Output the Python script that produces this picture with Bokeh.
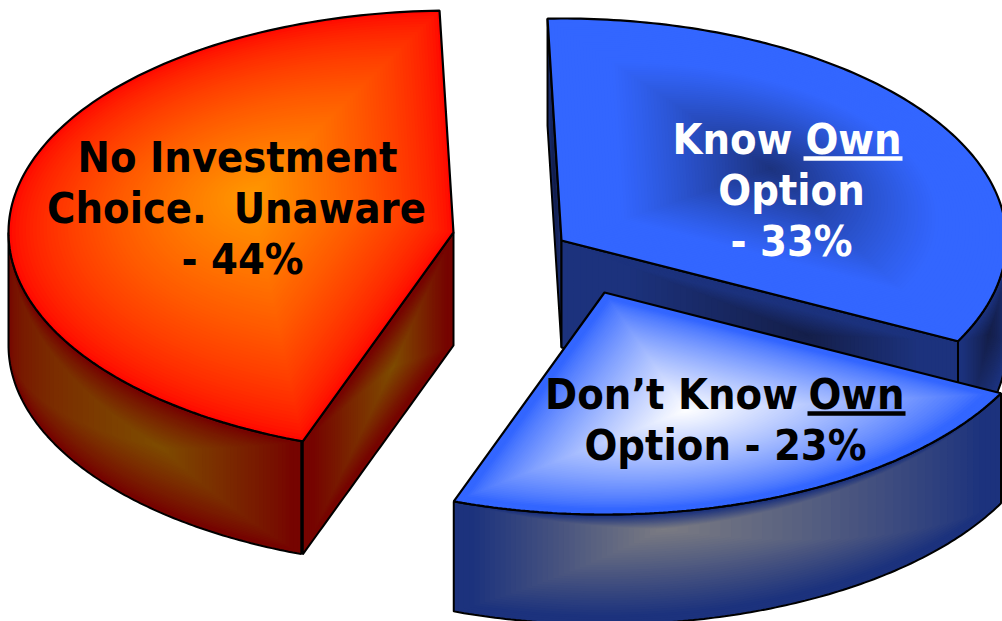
import numpy as np
from bokeh.plotting import figure
from bokeh.models import Range1d
from bokeh.core.properties import value
from bokeh.embed import file_html
from bokeh.resources import INLINE

# data
slice_names = ["Know Own Option", "Don't Know Own Option", "No Investment Choice. Unaware"]
shares = [33, 23, 44]

# layout of the exploded 3D pie
RX, RY = 445.0, 222.0
START = -1.8
CENTERS = {0: (561.0, 240.0), 1: (604.0, 292.0), 2: (453.0, 232.0)}
DEPTH = {0: 107.0, 1: 110.0, 2: 113.0}

BLUE = (51, 102, 255)
NAVY = (28, 50, 125)
DARKNAVY = (20, 30, 72)
RED = (255, 8, 0)
ORANGE = (255, 152, 0)
DARKRED = (118, 4, 0)
OLIVE = (126, 76, 0)
GREY = (124, 124, 130)
WHITE = (255, 255, 255)

p = figure(width=1002, height=621, x_range=Range1d(0, 1002), y_range=Range1d(621, 0),
           output_backend="svg", toolbar_location=None, min_border=0,
           background_fill_color="white", outline_line_color=None)
p.axis.visible = False
p.grid.visible = False

edges = START + np.concatenate([[0], np.cumsum(shares)]) * 3.6


def arc(i, t0, t1, n=90):
    cx, cy = CENTERS[i]
    t = np.radians(np.linspace(t0, t1, n))
    return np.column_stack([cx + RX * np.sin(t), cy - RY * np.cos(t)])


def hexc(c0, c1, t):
    return "#%02x%02x%02x" % tuple(int(round(a + (b - a) * t)) for a, b in zip(c0, c1))


def top_face(i, focal, c0, c1, start=1.0, gamma=1.0, layers=70):
    cx, cy = CENTERS[i]
    poly = np.vstack([[[cx, cy]], arc(i, edges[i], edges[i + 1], 140)])
    f = np.array(focal)
    xs, ys, cols = [], [], []
    for s in np.linspace(1, 0.01, layers):
        q = f + s * (poly - f)
        xs.append(q[:, 0])
        ys.append(q[:, 1])
        cols.append(hexc(c0, c1, min(1, ((start - min(s, start)) / start)) ** gamma))
    p.patches(xs, ys, fill_color=cols, line_color=None)
    p.patch(poly[:, 0], poly[:, 1], fill_color=None, line_color="black", line_width=2.2)


def wall(path, depth, fu, fv, c0, c1, start=1.0, gamma=1.0, layers=40):
    n = len(path)
    xs, ys, cols = [], [], []
    grid = np.linspace(0, 1, n)
    for s in np.linspace(1, 0.01, layers):
        u0, u1 = fu * (1 - s), fu + (1 - fu) * s
        v0, v1 = fv * (1 - s), fv + (1 - fv) * s
        uu = np.linspace(u0, u1, 60)
        px = np.interp(uu, grid, path[:, 0])
        py = np.interp(uu, grid, path[:, 1])
        xs.append(np.concatenate([px, px[::-1]]))
        ys.append(np.concatenate([py + v0 * depth, py[::-1] + v1 * depth]))
        cols.append(hexc(c0, c1, min(1, ((start - min(s, start)) / start)) ** gamma))
    p.patches(xs, ys, fill_color=cols, line_color=None)
    ox = np.concatenate([path[:, 0], path[::-1, 0]])
    oy = np.concatenate([path[:, 1], path[::-1, 1] + depth])
    p.patch(ox, oy, fill_color=None, line_color="black", line_width=2.0)


def seg(i, t):
    cx, cy = CENTERS[i]
    e = arc(i, t, t, 2)[0]
    return np.linspace([cx, cy], e, 30)


# Know Own slice: walls then top
wall(seg(0, edges[0])[::-1], DEPTH[0], 0.5, 0.5, NAVY, DARKNAVY, 1.0)
wall(seg(0, edges[1]), DEPTH[0], 0.62, 0.3, NAVY, DARKNAVY, 0.75)
wall(arc(0, 90, edges[1], 30), DEPTH[0], 0.6, 0.3, NAVY, DARKNAVY, 0.9)
top_face(0, (770, 168), BLUE, NAVY, start=0.72, gamma=1.1)

# No Investment slice
wall(arc(2, 200, 270, 120), DEPTH[2], 0.3, 0.42, DARKRED, OLIVE, 0.95, gamma=0.85)
wall(seg(2, edges[2]), DEPTH[2], 0.4, 0.45, DARKRED, OLIVE, 0.9)
top_face(2, (250, 195), RED, ORANGE, start=1.0, gamma=0.7)

# Don't Know slice
wall(arc(1, edges[1], edges[2], 120), DEPTH[1], 0.67, 0.15, NAVY, GREY, 0.92)
top_face(1, (685, 410), BLUE, WHITE, start=0.95, gamma=0.8)

FONT = value("DejaVu Sans Condensed")
LIFT = 16
def label(x, y, s, color, size):
    p.text([x], [y - LIFT], text=[s], text_color=color, text_font=FONT, text_font_size=size,
           text_font_style="bold", text_align="center", text_baseline="alphabetic")

SIZE = "43px"
label(237, 172, "No Investment", "black", SIZE)
label(236, 223, "Choice.\u00a0\u00a0Unaware", "black", SIZE)
label(242, 274, "- 44%", "black", SIZE)
label(732, 154, "Know", "white", SIZE)
label(853, 154, "Own", "white", SIZE)
label(791, 205, "Option", "white", SIZE)
label(791, 256, "- 33%", "white", SIZE)
label(671, 409, "Don\u2019t Know", "black", SIZE)
label(856, 409, "Own", "black", SIZE)
label(725, 460, "Option - 23%", "black", SIZE)
p.segment([803], [158], [902], [158], line_color="white", line_width=4.5)
p.segment([807], [413], [905], [413], line_color="black", line_width=4.5)

open("out.html", "w").write(file_html(p, INLINE))
